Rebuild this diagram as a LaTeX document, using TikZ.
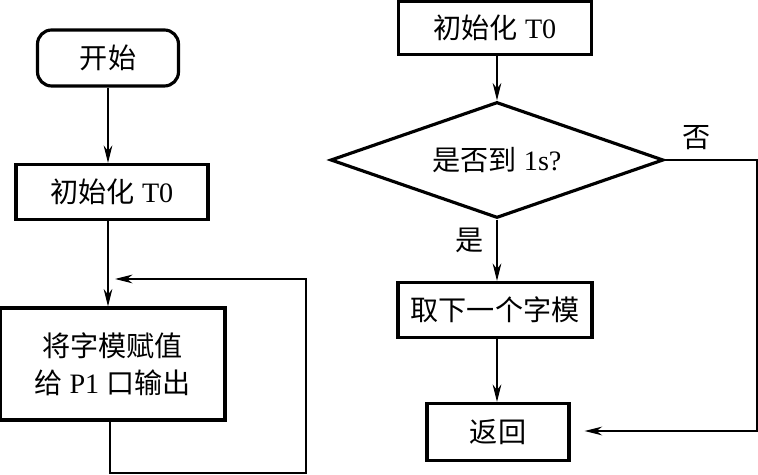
\documentclass[tikz,border=0pt]{standalone}
\usepackage{fontspec}
\setmainfont{Liberation Serif}
\newfontfamily\cjk{Noto Sans CJK SC}
\usetikzlibrary{arrows.meta,shapes.geometric}

\begin{document}
\begin{tikzpicture}[x=0.02cm,y=-0.02cm,
  box/.style={draw,line width=1.8pt,inner sep=0pt,font=\fontsize{16}{21}\selectfont,align=center},
  arr/.style={line width=0.6pt,>={Stealth[length=10pt,width=5pt]},->},
  lin/.style={line width=0.6pt}]

\useasboundingbox (0,0) rectangle (758,475);

% ------------------------------------------------ left: main program
\node[box,rounded corners=8pt,minimum width=2.82cm,minimum height=1.12cm] (start) at (108,58) {\cjk 开始};
\node[box,minimum width=3.84cm,minimum height=1.1cm] (initL) at (112,192) {{\cjk 初始化} T0};
\node[box,minimum width=4.5cm,minimum height=2.24cm] (show) at (112.5,364) {{\cjk 将字模赋值}\\{\cjk 给} P1 {\cjk 口输出}};

\draw[arr] (start.south) -- (start.south |- initL.north);
\draw[arr] (initL.south -| start.south) -- (start.south |- show.north);

% loop back above the output box
\coordinate (loopin) at (108,279);
\draw[arr,shorten >=4pt] (110,0 |- show.south) -- (110,473) -- (306,473) -- (306,279) -- (loopin);

% ------------------------------------------------ right: timer interrupt
\node[box,minimum width=3.86cm,minimum height=1.06cm] (initR) at (495,28) {{\cjk 初始化} T0};
\node[box,diamond,aspect=2.87,minimum width=6.66cm,minimum height=2.32cm] (test) at (497,160) {{\cjk 是否到} 1s?};
\node[box,minimum width=3.88cm,minimum height=1.1cm] (next) at (495,310) {\cjk 取下一个字模};
\node[box,minimum width=2.84cm,minimum height=1.14cm] (back) at (498,432) {\cjk 返回};

\draw[arr] (initR.south -| test.north) -- (test.north);
\draw[arr] (test.south) -- (test.south |- next.north);
\draw[arr] (next.south -| test.south) -- (test.south |- back.north);
\draw[arr,shorten >=8pt] (test.east) -- (757,0 |- test.east) -- (757,431) -- (back.east |- 0,431);

\node[font=\fontsize{16}{21}\selectfont\cjk] (no) at (697,138) {否};
\node[font=\fontsize{16}{21}\selectfont\cjk] (yes) at (470,240) {是};

\end{tikzpicture}
\end{document}
